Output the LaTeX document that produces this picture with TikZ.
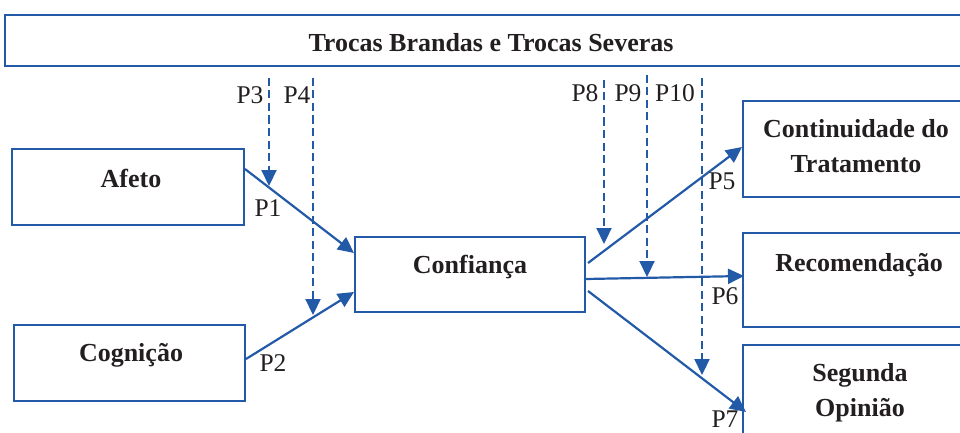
\documentclass[tikz,border=0pt]{standalone}
\usepackage{fontspec}
\setmainfont{Liberation Serif}
\usetikzlibrary{arrows.meta,calc}
\definecolor{lineblue}{RGB}{35,90,168}
\definecolor{ink}{RGB}{35,31,32}
\begin{document}
\begin{tikzpicture}[x=1pt,y=-1pt,
  box/.style={draw=lineblue, line width=2pt, inner sep=0pt},
  ttl/.style={font=\fontsize{26}{34.5}\selectfont\bfseries, text=ink, align=center, inner sep=0pt, anchor=base},
  plab/.style={font=\fontsize{25.5}{30}\selectfont, text=ink, inner sep=0pt, anchor=base},
  arr/.style={draw=lineblue, line width=2.2pt, -{Triangle[length=16pt,width=15pt]}},
  darr/.style={arr, dash pattern=on 8pt off 4.5pt}]
\useasboundingbox (0,0) rectangle (960,433);
\clip (0,0) rectangle (960,433);

% boxes
\node[box, minimum width=970pt, minimum height=51pt] (top) at (490,40.5) {};
\node[box, minimum width=232pt, minimum height=76pt] (afeto) at (128,187) {};
\node[box, minimum width=231pt, minimum height=76pt] (cog) at (129.5,363) {};
\node[box, minimum width=230pt, minimum height=75pt] (conf) at (470,274.5) {};
\node[box, minimum width=232pt, minimum height=96pt] (cont) at (859,149) {};
\node[box, minimum width=232pt, minimum height=94pt] (rec) at (859,280) {};
\node[box, minimum width=232pt, minimum height=100pt] (seg) at (859,395) {};

% box texts
\node[ttl] (toptxt) at (491,52) {Trocas Brandas e Trocas Severas};
\node[ttl] (afetotxt) at (131,187) {Afeto};
\node[ttl] (cogtxt) at (131,361) {Cognição};
\node[ttl] (conftxt) at (470,273) {Confiança};
\node[ttl] (conttxt) at (856,172) {Continuidade do\\Tratamento};
\node[ttl] (rectxt) at (859,271) {Recomendação};
\node[ttl] (segtxt) at (860,416) {Segunda\\Opinião};

% solid paths
\draw[arr] ([yshift=18pt]afeto.east) -- ([yshift=21.5pt]conf.west);
\draw[arr] ([yshift=4pt]cog.east) -- ([yshift=-17.5pt]conf.west);
\draw[arr] ([xshift=2pt,yshift=11.5pt]conf.east) -- ([yshift=2pt]cont.west);
\draw[arr] ([yshift=-4.5pt]conf.east) -- ([xshift=2pt,yshift=4pt]rec.west);
\draw[arr] ([xshift=2pt,yshift=-16.5pt]conf.east) -- ([xshift=4pt,yshift=-17pt]seg.west);

% moderator coordinates
\coordinate (p3top) at (269,78);  \coordinate (p3end) at (269,186);
\coordinate (p4top) at (313,78);  \coordinate (p4end) at (313,315);
\coordinate (p8top) at (604,80);  \coordinate (p8end) at (604,244);
\coordinate (p9top) at (647,75);  \coordinate (p9end) at (647,277);
\coordinate (p10top) at (702,78); \coordinate (p10end) at (702,375);

\draw[darr] (p3top) -- (p3end);
\draw[darr] (p4top) -- (p4end);
\draw[darr] (p8top) -- (p8end);
\draw[darr] (p9top) -- (p9end);
\draw[darr] (p10top) -- (p10end);

% labels
\node[plab] (lp3) at (250,104) {P3};
\node[plab] (lp4) at (297,104) {P4};
\node[plab] (lp1) at (268,216) {P1};
\node[plab] (lp2) at (273,371) {P2};
\node[plab] (lp8) at (585,102) {P8};
\node[plab] (lp9) at (628,102) {P9};
\node[plab] (lp10) at (675,102) {P10};
\node[plab] (lp5) at (722,189) {P5};
\node[plab] (lp6) at (725,304) {P6};
\node[plab] (lp7) at (725,427) {P7};
\end{tikzpicture}
\end{document}
